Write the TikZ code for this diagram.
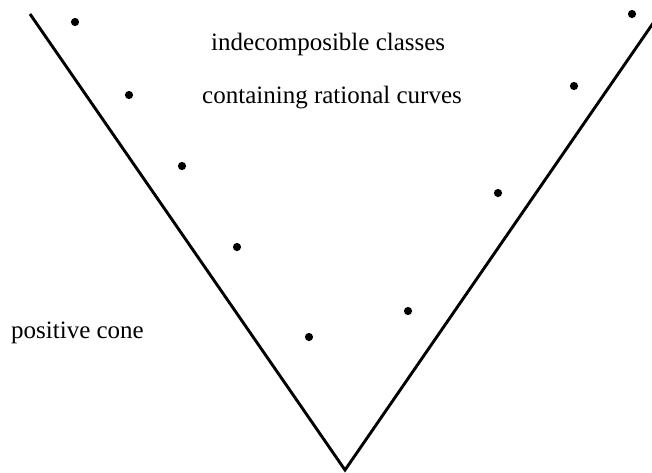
\documentclass[tikz,border=0pt]{standalone}
\usepackage{fontspec}
\setmainfont{Liberation Serif}
\begin{document}
\begin{tikzpicture}[x=1pt, y=-1pt, every node/.style={inner sep=0pt, font=\fontsize{25}{30}\selectfont}]
\useasboundingbox (0,0) rectangle (652,472);
\coordinate (apex) at (345,470);
\coordinate (lefttop) at (30,14);
\coordinate (righttop) at (658,16);
\draw[line width=2.9pt] (lefttop) -- (apex) -- (righttop);
\foreach \x/\y in {75/22, 129/95, 182/166, 237/247, 309/337, 408/311, 498/193, 574/86, 632/14}
  \fill (\x,\y) circle (4.1pt);
\node[anchor=base west] (indec) at (211,50) {indecomposible classes};
\node[anchor=base west] (ratcurves) at (202,103) {containing rational curves};
\node[anchor=base west] (poscone) at (11,338) {positive cone};
\end{tikzpicture}
\end{document}
